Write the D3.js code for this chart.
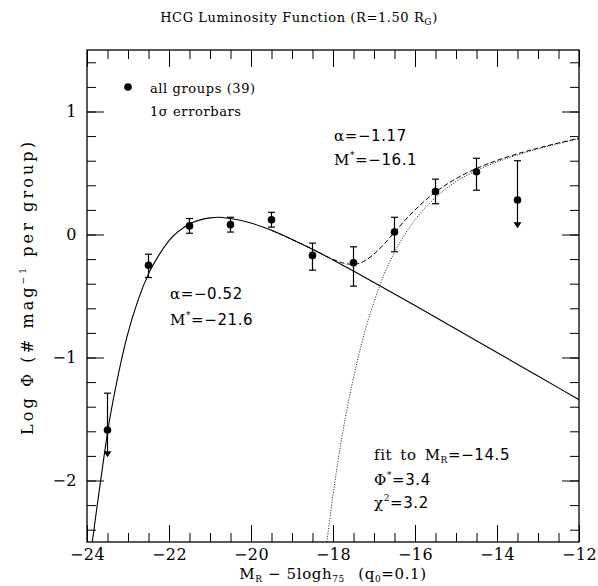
<!DOCTYPE html>
<html>
<head>
<meta charset="utf-8">
<script src="https://cdn.jsdelivr.net/npm/d3@7"></script>
<style>
  body { margin:0; background:#fff; }
  text { font-family:"DejaVu Serif", serif; fill:#000; }
</style>
</head>
<body>
<div id="chart-area"></div>
<script>
const margin = {top:50, right:19, bottom:44, left:87};
const width = 598 - margin.left - margin.right;
const height = 586 - margin.top - margin.bottom;

// group data points (M_R, log phi, error bar ends)
const mag      = [-23.5, -22.5, -21.5, -20.5, -19.5, -18.5, -17.5, -16.5, -15.5, -14.5, -13.5];
const logPhi   = [-1.59, -0.25,  0.07,  0.08,  0.12, -0.17, -0.23,  0.02,  0.35,  0.51,  0.28];
const errHi    = [-1.29, -0.16,  0.13,  0.14,  0.18, -0.07, -0.10,  0.14,  0.45,  0.62,  0.60];
const errLo    = [-1.81, -0.35,  0.01,  0.02,  0.06, -0.29, -0.42, -0.14,  0.25,  0.36,  0.05];
const upperLim = [true, false, false, false, false, false, false, false, false, false, true];

// bright schechter component (solid)
const brightM   = [-23.88,-23.75,-23.6,-23.5,-23.25,-23,-22.75,-22.5,-22.25,-22,-21.5,-21,-20.8,-20.5,-20,-19.5,-19,-18.5,-18,-17.5,-17,-16,-15,-14,-13,-12];
const brightLog = [-2.52,-2.20,-1.84,-1.61,-1.16,-0.80,-0.53,-0.32,-0.17,-0.05,0.085,0.135,0.14,0.13,0.093,0.034,-0.04,-0.12,-0.207,-0.297,-0.39,-0.578,-0.768,-0.959,-1.151,-1.343];

// faint schechter component (dotted)
const faintM   = [-18.15,-18,-17.8,-17.6,-17.4,-17.2,-17,-16.75,-16.5,-16.25,-16,-15.5,-15,-14.5,-14,-13.5,-13,-12.5,-12];
const faintLog = [-2.50,-2.12,-1.68,-1.32,-1.02,-0.76,-0.55,-0.32,-0.145,0.0,0.12,0.30,0.43,0.52,0.59,0.647,0.696,0.739,0.779];

// sum of both (dashed)
const sumM   = [-19.5,-19,-18.5,-18,-17.8,-17.6,-17.4,-17.2,-17,-16.75,-16.5,-16.25,-16,-15.5,-15,-14.5,-14,-13.5,-13,-12.5,-12];
const sumLog = [0.034,-0.04,-0.12,-0.202,-0.227,-0.241,-0.237,-0.209,-0.159,-0.076,0.019,0.113,0.200,0.345,0.454,0.537,0.602,0.656,0.702,0.744,0.782];

const xMajor = [-24,-22,-20,-18,-16,-14,-12];
const xMinor = d3.range(-24, -11.9, 0.5);
const yMajor = [-2,-1,0,1];
const yMinor = d3.range(-2.4, 1.45, 0.2);

var svg = d3.select("#chart-area").append("svg")
    .attr("width", 598)
    .attr("height", 586);

var g = svg.append("g")
    .attr("transform", "translate(" + margin.left + "," + margin.top + ")");

var xScale = d3.scaleLinear().domain([-24,-12]).range([0,width]);
var yScale = d3.scaleLinear().domain([-2.5,1.5]).range([height,0]);

g.append("clipPath").attr("id","clip")
 .append("rect").attr("width",width).attr("height",height);

var fmt = d3.format("d");

// ticks on all four sides, pointing inward
var addTicks = function(axisFn, scale, vals, size, tr, labels) {
    var a = axisFn(scale).tickValues(vals).tickSize(-size).tickSizeOuter(0)
        .tickFormat(labels ? fmt : "");
    var s = g.append("g").attr("transform", tr).call(a);
    s.select(".domain").remove();
    s.selectAll("line").attr("stroke","#000").attr("stroke-width",1);
    return s;
};

addTicks(d3.axisBottom, xScale, xMinor, 9, `translate(0,${height})`, false);
addTicks(d3.axisTop, xScale, xMinor, 9, "translate(0,0)", false);
addTicks(d3.axisLeft, yScale, yMinor, 9, "translate(0,0)", false);
addTicks(d3.axisRight, yScale, yMinor, 9, `translate(${width},0)`, false);

var xb = addTicks(d3.axisBottom, xScale, xMajor, 17, `translate(0,${height})`, true);
xb.selectAll("text").attr("font-size",16).attr("font-family","DejaVu Serif")
  .attr("dy","0.95em").attr("letter-spacing","0.5px");
addTicks(d3.axisTop, xScale, xMajor, 17, "translate(0,0)", false);
var yl = addTicks(d3.axisLeft, yScale, yMajor, 17, "translate(0,0)", true);
yl.selectAll("text").attr("font-size",16).attr("font-family","DejaVu Serif").attr("x",-10)
  .attr("letter-spacing","0.5px");
addTicks(d3.axisRight, yScale, yMajor, 17, `translate(${width},0)`, false);

g.append("rect")
 .attr("width",width).attr("height",height)
 .attr("fill","none").attr("stroke","#000").attr("stroke-width",1.3);

// curves
var line = function(xs, ys) {
    return d3.line().curve(d3.curveMonotoneX)
        .x((d,i) => xScale(xs[i])).y(d => yScale(d))(ys);
};
var curves = g.append("g").attr("clip-path","url(#clip)").attr("fill","none");
curves.append("path").attr("d", line(brightM, brightLog))
      .attr("stroke","#000").attr("stroke-width",1.1);
curves.append("path").attr("d", line(faintM, faintLog))
      .attr("stroke","#000").attr("stroke-width",0.9).attr("stroke-dasharray","1,1.6");
curves.append("path").attr("d", line(sumM, sumLog))
      .attr("stroke","#000").attr("stroke-width",1).attr("stroke-dasharray","5,2.5");

// error bars and points
var pts = g.append("g");
mag.forEach(function(m, i) {
    var cx = xScale(m);
    pts.append("line")
       .attr("x1",cx).attr("x2",cx)
       .attr("y1",yScale(errHi[i])).attr("y2",yScale(errLo[i]) - (upperLim[i] ? 5 : 0))
       .attr("stroke","#000").attr("stroke-width",1.2);
    pts.append("line")
       .attr("x1",cx-3.5).attr("x2",cx+3.5)
       .attr("y1",yScale(errHi[i])).attr("y2",yScale(errHi[i]))
       .attr("stroke","#000").attr("stroke-width",1.2);
    if (upperLim[i]) {
        var ty = yScale(errLo[i]);
        pts.append("path")
           .attr("d", `M${cx-4},${ty-6}L${cx+4},${ty-6}L${cx},${ty}Z`)
           .attr("fill","#000");
    } else {
        pts.append("line")
           .attr("x1",cx-3.5).attr("x2",cx+3.5)
           .attr("y1",yScale(errLo[i])).attr("y2",yScale(errLo[i]))
           .attr("stroke","#000").attr("stroke-width",1.2);
    }
    pts.append("circle")
       .attr("cx",cx).attr("cy",yScale(logPhi[i])).attr("r",3.8)
       .attr("fill","#000");
});

// texts
var txt = function(x, y, anchor, size) {
    return svg.append("text").attr("x",x).attr("y",y)
        .attr("text-anchor",anchor || "start")
        .attr("font-size",size || 13).attr("letter-spacing","0.6px");
};
var sub = function(t, s) {
    t.append("tspan").attr("font-size",9).attr("dy",3).text(s);
    return t;
};
var sup = function(t, s) {
    t.append("tspan").attr("font-size",9).attr("dy",-7).text(s);
    return t;
};
var num = function(t, s, dy) {
    t.append("tspan").attr("font-family","DejaVu Sans").attr("dy",dy || 0).text(s);
    return t;
};

var title = txt(299, 22, "middle");
title.append("tspan").text("HCG Luminosity Function (R=1.50 R");
sub(title, "G");
title.append("tspan").attr("dy",-3).text(")");

svg.append("circle").attr("cx",128).attr("cy",87).attr("r",3.8).attr("fill","#000");
txt(150, 93).text("all groups (39)");
txt(150, 116).text("1\u03c3 errorbars");

var a1 = txt(334, 141, "start", 15); a1.append("tspan").text("\u03b1");
num(a1, "=\u22121.17");
var ms1 = txt(334, 165, "start", 15); ms1.append("tspan").text("M");
sup(ms1, "*"); num(ms1, "=\u221216.1", 7);

var a2 = txt(170, 299, "start", 15); a2.append("tspan").text("\u03b1");
num(a2, "=\u22120.52");
var ms2 = txt(170, 325, "start", 15); ms2.append("tspan").text("M");
sup(ms2, "*"); num(ms2, "=\u221221.6", 7);

var fit = txt(374, 460, "start", 15); fit.append("tspan").text("fit\u2002to\u2002M");
sub(fit, "R"); num(fit, "=\u221214.5", -3);
var ph = txt(374, 485, "start", 15); ph.append("tspan").text("\u03a6");
sup(ph, "*"); num(ph, "=3.4", 7);
var ch = txt(374, 508, "start", 15); ch.append("tspan").text("\u03c7");
sup(ch, "2"); num(ch, "=3.2", 7);

var xt = txt(333, 579, "middle", 15);
xt.append("tspan").text("M");
sub(xt, "R"); xt.append("tspan").attr("dy",-3).text(" \u2212 5logh");
sub(xt, "75"); xt.append("tspan").attr("dy",-3).text("\u2002 (q");
sub(xt, "0"); xt.append("tspan").attr("dy",-3).text("=0.1)");

var yt = svg.append("text")
    .attr("transform","translate(33,287) rotate(-90)")
    .attr("text-anchor","middle")
    .attr("font-size",16).attr("letter-spacing","3.1px");
yt.append("tspan").text("Log \u03a6 (# mag");
sup(yt, "\u22121"); yt.append("tspan").attr("dy",7).text(" per group)");
</script>
</body>
</html>
